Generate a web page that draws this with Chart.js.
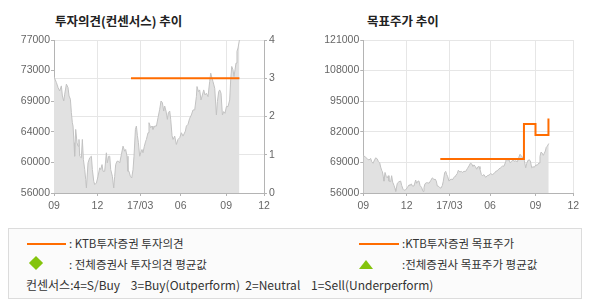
<!DOCTYPE html>
<html>
<head>
<meta charset="utf-8">
<script src="https://cdn.jsdelivr.net/npm/chart.js@4.4.1/dist/chart.umd.min.js"></script>
<style>
  body { margin: 0; background: #fff; width: 590px; height: 300px; position: relative; overflow: hidden; }
  .title { position: absolute; top: 13px; font: bold 12.5px "Noto Sans CJK KR", sans-serif; color: #222; line-height: 15px; }
  canvas { position: absolute; top: 0; }
  #legend { position: absolute; left: 8px; top: 228px; width: 572px; height: 69px; border: 1px solid #dcdcdc; background: #fbfbfb;
    font: 11.5px "Noto Sans CJK KR", sans-serif; color: #333; }
  .row { position: absolute; line-height: 14px; white-space: nowrap; }
  .ln { position: absolute; height: 2px; background: #ff6c00; }
  .dia { position: absolute; width: 10px; height: 10px; background: #84c40c; transform: rotate(45deg); }
  .tri { position: absolute; width: 0; height: 0; border-left: 7px solid transparent; border-right: 7px solid transparent; border-bottom: 9px solid #84c40c; }
</style>
</head>
<body>
<div class="title" style="left:55px">투자의견(컨센서스) 추이</div>
<div class="title" style="left:367px">목표주가 추이</div>
<canvas id="opinion" width="295" height="220" style="left:0"></canvas>
<canvas id="target" width="295" height="220" style="left:295px"></canvas>

<div id="legend">
  <div class="ln" style="left:18px;top:14px;width:39px"></div>
  <div class="row" style="left:60px;top:7px">: KTB투자증권 투자의견</div>
  <div class="ln" style="left:350px;top:14px;width:40px"></div>
  <div class="row" style="left:393px;top:7px">:KTB투자증권 목표주가</div>
  <div class="dia" style="left:22px;top:29px"></div>
  <div class="row" style="left:60px;top:28px">: 전체증권사 투자의견 평균값</div>
  <div class="tri" style="left:350px;top:31px"></div>
  <div class="row" style="left:393px;top:28px">:전체증권사 목표주가 평균값</div>
  <div class="row" style="left:17px;top:49px;font-size:12px">컨센서스:4=S/Buy&nbsp;&nbsp;&nbsp;&nbsp;3=Buy(Outperform)&nbsp;&nbsp;2=Neutral&nbsp;&nbsp;&nbsp;&nbsp;1=Sell(Underperform)</div>
</div>

<script>
// x axis = trading day index from 2016/09
const xTickPos = [0, 62, 123, 181, 246, 300];
const xTickLabels = ["09", "12", "17/03", "06", "09", "12"];

// stock price
const priceDays = [0, 3.4, 5.8, 8.1, 10.5, 12, 13.9, 15.3, 17.7, 20, 21.5, 23.4, 24.8, 26.2, 27.2, 28.6, 29.5, 31, 32.9, 34.3,
  35.7, 36.7, 39.1, 40.5, 42, 43.9, 45.3, 46.3, 48.6, 51, 53.4, 54.8, 56.8, 58.2, 60.6, 62.9, 65.3, 66.7, 68.6, 70,
  72.4, 74.8, 76.2, 78.1, 79.6, 81, 83.4, 85.3, 86.7, 88.1, 90, 92, 93.9, 96.3, 98.6, 101, 102.4, 104.3, 105.7, 107.1,
  109.1, 111, 112.9, 114.3, 116.3, 117.7, 119.1, 120.6, 122.4, 123.9, 125.7, 127.1, 129.1, 131, 132, 134.3, 135.7, 138.1, 140, 141.4,
  143.8, 146.3, 148.6, 151, 152.9, 154.8, 156.7, 158.1, 160, 162, 163.4, 165.3, 166.7, 168.6, 170, 172.4, 174.8, 177.1, 179.6, 182,
  184.3, 187.7, 189.1, 191.4, 193.8, 196.2, 198.6, 201, 203.4, 204.3, 206.3, 208.1, 210, 212, 213.9, 215.7, 217.7, 220, 222.4, 223.9,
  225.7, 227.1, 229.6, 232, 233.4, 235.3, 236.7, 238.6, 240.6, 242.4, 244.3, 246.3, 248.6, 251, 252.4, 253.9, 255.7, 257.1, 258.6, 260,
  261.4, 262.9, 264.9];
const prices = [71950, 71170, 70480, 70010, 70700, 69320, 68630, 69560, 70940, 70480, 69320, 68870, 67030, 65650, 65190, 62900, 61050, 64730, 62900, 62430,
  63350, 61050, 60830, 63350, 60600, 59220, 57840, 56690, 60140, 60830, 61050, 59220, 57600, 57150, 57380, 58290, 59450, 59220, 59900, 58980,
  58980, 61520, 60140, 61050, 61050, 59220, 58290, 56690, 58290, 59900, 60360, 60360, 60140, 61290, 62430, 61740, 61970, 61050, 58980, 58980,
  58290, 58060, 59220, 61050, 64730, 65190, 63900, 62900, 61050, 61520, 61970, 61520, 62430, 63120, 63350, 64270, 65650, 64960, 65190, 64730,
  65190, 65190, 66340, 67490, 68630, 68410, 67250, 67940, 67250, 66110, 67030, 67250, 66110, 63900, 63350, 63810, 62660, 63350, 63590, 64270,
  63810, 64500, 65190, 65420, 66250, 66710, 67400, 67400, 69230, 70610, 69920, 70150, 68770, 69460, 70150, 69460, 69690, 69230, 71300, 72450,
  71760, 71300, 70380, 66710, 68540, 69920, 70150, 69690, 66710, 67170, 66940, 67860, 67860, 68770, 71530, 73370, 72910, 71990, 72910, 73830,
  75440, 75900, 77000];

// KTB investment opinion (3 = Buy)
const opinionDays = [110, 264.9];
const opinions = [3, 3];

// KTB target price
const targetDays = [110, 229.5, 246, 264.5];
const targets = [70400, 85300, 80600, 87700];

// left axis tick labels
const leftTicks = [56000, 60200, 64400, 68600, 72800, 77000];
const leftTickLabels = ["56000", "60000", "64000", "69000", "73000", "77000"];

const pts = (xs, ys) => xs.map((x, i) => ({ x: x, y: ys[i] }));

const tickFont = { family: "'Liberation Sans', Arial, sans-serif", size: 10.5 };
const tickColor = "#666";
const gridColor = "#e6e6e6";
const axisColor = "#b4b4b4";
const orange = "#ff6c00";

function xScale() {
  return {
    type: "linear",
    min: 0,
    max: 300,
    afterBuildTicks: (s) => { s.ticks = xTickPos.map((v) => ({ value: v })); },
    afterFit: (s) => { s.height = 27; },
    ticks: { font: tickFont, color: tickColor, padding: 4, maxRotation: 0, autoSkip: false,
      callback: (v, i) => xTickLabels[i] },
    grid: { color: gridColor, tickColor: axisColor, tickLength: 3 },
    border: { color: axisColor },
  };
}

const priceSet = (axis) => ({
  data: pts(priceDays, prices),
  yAxisID: axis,
  borderColor: "#c2c2c2",
  borderWidth: 1,
  backgroundColor: "#e1e1e1",
  fill: "start",
  pointRadius: 0,
  tension: 0,
});

// chart 1: investment opinion
new Chart("opinion", {
  type: "line",
  data: {
    datasets: [
      {
        data: pts(opinionDays, opinions),
        yAxisID: "y2",
        borderColor: orange,
        borderWidth: 2,
        pointRadius: 0,
        fill: false,
      },
      priceSet("y"),
    ],
  },
  options: {
    responsive: false,
    animation: false,
    layout: { padding: { top: 40, left: 0, right: 0, bottom: 0 } },
    plugins: { legend: { display: false }, tooltip: { enabled: false } },
    scales: {
      x: xScale(),
      y: {
        position: "left",
        min: 56000,
        max: 77000,
        afterBuildTicks: (s) => { s.ticks = leftTicks.map((v) => ({ value: v })); },
        afterFit: (s) => { s.width = 54; },
        ticks: { font: tickFont, color: tickColor, padding: 1, callback: (v, i) => leftTickLabels[i] },
        grid: { drawOnChartArea: false, tickColor: axisColor, tickLength: 3 },
        border: { color: axisColor },
      },
      y2: {
        position: "right",
        min: 0,
        max: 4,
        afterFit: (s) => { s.width = 31; },
        ticks: { stepSize: 1, font: tickFont, color: tickColor, padding: 2 },
        grid: { color: gridColor, tickColor: axisColor, tickLength: 3 },
        border: { color: axisColor },
      },
    },
  },
});

// chart 2: target price
new Chart("target", {
  type: "line",
  data: {
    datasets: [
      {
        data: pts(targetDays, targets),
        borderColor: orange,
        borderWidth: 2,
        stepped: "before",
        pointRadius: 0,
        fill: false,
      },
      priceSet("y"),
    ],
  },
  options: {
    responsive: false,
    animation: false,
    layout: { padding: { top: 40, left: 0, right: 16.7, bottom: 0 } },
    plugins: { legend: { display: false }, tooltip: { enabled: false } },
    scales: {
      x: xScale(),
      y: {
        min: 56000,
        max: 121000,
        afterFit: (s) => { s.width = 68.3; },
        ticks: { stepSize: 13000, font: tickFont, color: tickColor, padding: 1, callback: (v) => String(v) },
        grid: { color: gridColor, tickColor: axisColor, tickLength: 3 },
        border: { color: axisColor },
      },
    },
  },
});
</script>
</body>
</html>
